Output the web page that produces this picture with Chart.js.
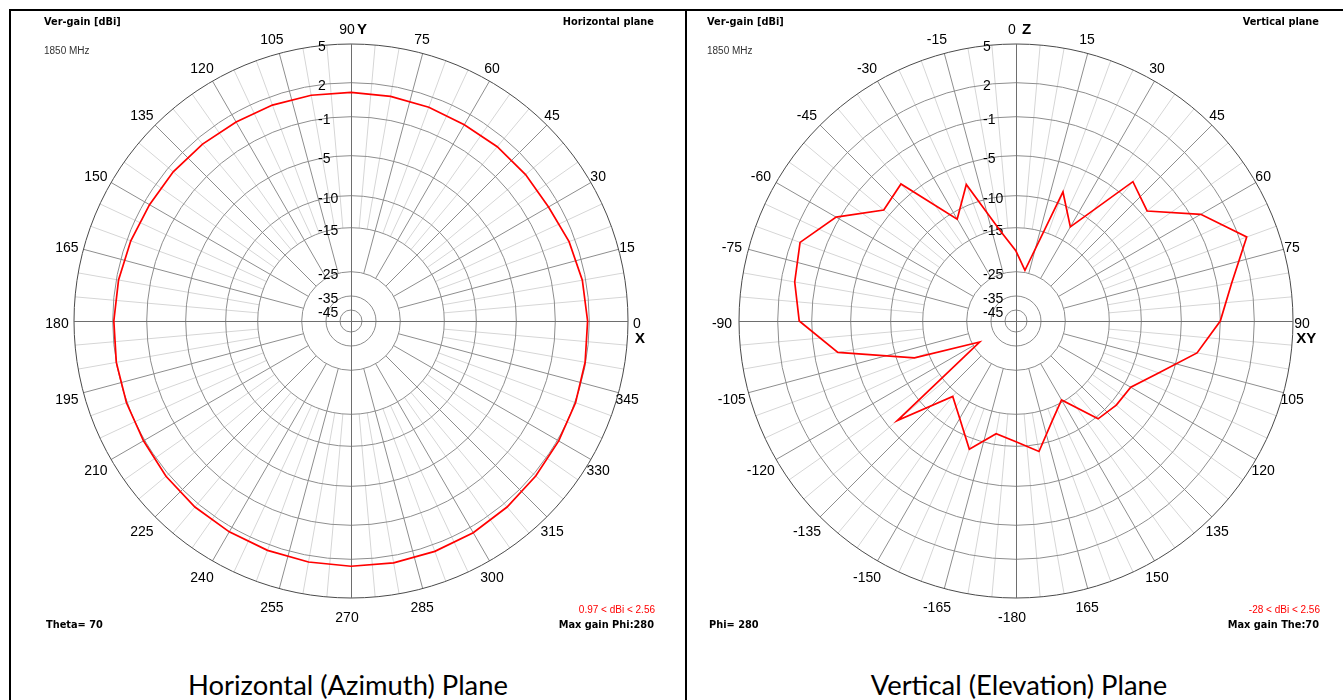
<!DOCTYPE html>
<html>
<head>
<meta charset="utf-8">
<title>Radiation pattern 1850 MHz</title>
<script src="https://cdn.jsdelivr.net/npm/chart.js@4.4.1/dist/chart.umd.min.js"></script>
<style>
body{margin:0;background:#fff;width:1343px;height:700px;overflow:hidden;position:relative}
.line{position:absolute;background:#000}
canvas{position:absolute}
.t{position:absolute;white-space:nowrap;line-height:1}
.b{font:bold 9.8px "DejaVu Sans",sans-serif;color:#000}
.s{font:10px "Liberation Sans",Arial,sans-serif;color:#333}
.red{font:10px "Liberation Sans",Arial,sans-serif;color:#ff0000}
.cap{font:27.4px Lato,sans-serif;color:#000;text-align:center;width:640px}
</style>
</head>
<body>
<div class="line" style="left:9px;top:9px;width:1334px;height:2px"></div>
<div class="line" style="left:9px;top:9px;width:2px;height:691px"></div>
<div class="line" style="left:685px;top:9px;width:2px;height:691px"></div>

<canvas id="az" width="640" height="640" style="left:31px;top:1px"></canvas>
<canvas id="el" width="640" height="640" style="left:696px;top:1px"></canvas>

<div class="t b" style="left:44px;top:16px">Ver-gain [dBi]</div>
<div class="t s" style="left:44px;top:45px">1850 MHz</div>
<div class="t b" style="right:689px;top:16px">Horizontal plane</div>
<div class="t b" style="left:46px;top:619px">Theta= 70</div>
<div class="t red" style="right:688px;top:604px">0.97 &lt; dBi &lt; 2.56</div>
<div class="t b" style="right:689px;top:619px">Max gain Phi:280</div>
<div class="t cap" style="left:28px;top:668px">Horizontal (Azimuth) Plane</div>

<div class="t b" style="left:707px;top:16px">Ver-gain [dBi]</div>
<div class="t s" style="left:707px;top:45px">1850 MHz</div>
<div class="t b" style="right:24px;top:16px">Vertical plane</div>
<div class="t b" style="left:709px;top:619px">Phi= 280</div>
<div class="t red" style="right:23px;top:604px">-28 &lt; dBi &lt; 2.56</div>
<div class="t b" style="right:24px;top:619px">Max gain The:70</div>
<div class="t cap" style="left:699px;top:668px">Vertical (Elevation) Plane</div>

<script>
// gain rings [dBi]
var gainTicks = [5, 2, -1, -5, -10, -15, -25, -35, -45];

// horizontal plane (Theta = 70), phi in degrees
var azAngles = [0, 10, 20, 30, 40, 50, 60, 70, 80, 90, 100, 110, 120, 130, 140, 150, 160, 170,
                180, 190, 200, 210, 220, 230, 240, 250, 260, 270, 280, 290, 300, 310, 320, 330, 340, 350];
var azGain = [1.85, 1.7, 1.45, 1.1, 1.08, 1.05, 0.97, 1.05, 1.1, 1.15, 1.2, 1.25, 1.25, 1.35, 1.45, 1.5, 1.65, 1.8,
              1.9, 2.0, 2.05, 2.1, 2.25, 2.35, 2.4, 2.45, 2.5, 2.54, 2.56, 2.53, 2.48, 2.35, 2.22, 2.12, 2.05, 1.95];
var azAngleTicks = [0, 15, 30, 45, 60, 75, 90, 105, 120, 135, 150, 165, 180, 195, 210, 225,
                    240, 255, 270, 285, 300, 315, 330, 345];

// vertical plane (Phi = 280), theta in degrees
var elAngles = [-180, -170, -160, -150, -140, -130, -120, -110, -100, -90, -80, -70, -60, -50, -40, -30, -20, -10,
                0, 10, 20, 30, 40, 50, 60, 70, 80, 90, 100, 110, 120, 130, 140, 150, 160, 170];
var elGain = [-10.7, -11.7, -8.6, -12, -14.2, -6.3, -28, -12.7, -3.4, 0.1, 0.8, 1.25, -0.7, -4.25, -3.6, -11.2, -7.5, -15.3,
              -20.3, -24.5, -8.5, -12.6, -3.3, -4.4, -0.2, 2.56, 0.3, -1.0, -3.1, -6.7, -9.1, -9.3, -9.7, -15.5, -13, -9.1];
var elAngleTicks = [0, 15, 30, 45, 60, 75, 90, 105, 120, 135, 150, 165, -180,
                    -165, -150, -135, -120, -105, -90, -75, -60, -45, -30, -15];

// where each ring sits, as part of the outer radius
var RING_POS = [1, 0.8603, 0.7375, 0.5968, 0.4524, 0.3368, 0.178, 0.0903, 0.0397];

function gainToFrac(v) {
    var n = gainTicks.length;
    if (v >= gainTicks[1]) {
        var t0 = (v - gainTicks[1]) / (gainTicks[0] - gainTicks[1]);
        return RING_POS[1] + t0 * (RING_POS[0] - RING_POS[1]);
    }
    for (var k = 1; k < n - 1; k++) {
        if (v >= gainTicks[k + 1]) {
            var t = (v - gainTicks[k + 1]) / (gainTicks[k] - gainTicks[k + 1]);
            return RING_POS[k + 1] + t * (RING_POS[k] - RING_POS[k + 1]);
        }
    }
    return Math.max(0, RING_POS[n - 1] * (v + 55) / 10);
}

class GainScale extends Chart.RadialLinearScale {
    getDistanceFromCenterForValue(value) {
        if (value === null || value === undefined || isNaN(value)) return NaN;
        return this.drawingArea * gainToFrac(value);
    }
    getValueForDistanceFromCenter(d) {
        var f = d / this.drawingArea;
        for (var k = 0; k < gainTicks.length - 1; k++) {
            if (f >= RING_POS[k + 1]) {
                return gainTicks[k + 1] + (f - RING_POS[k + 1]) / (RING_POS[k] - RING_POS[k + 1]) * (gainTicks[k] - gainTicks[k + 1]);
            }
        }
        return -55;
    }
    drawGrid() {
        var ctx = this.ctx, cx = this.xCenter, cy = this.yCenter;
        var n = this._pointLabels.length;
        var rOut = this.getDistanceFromCenterForValue(gainTicks[0]);
        var rLight = this.getDistanceFromCenterForValue(-15);
        var rDark = this.getDistanceFromCenterForValue(-25);
        ctx.save();
        ctx.lineWidth = 1;
        // thin spokes every 5 deg, darker every 15 deg
        for (var pass = 0; pass < 2; pass++) {
            for (var i = 0; i < n; i++) {
                var deg = i * 360 / n;
                if (deg % 90 === 0) continue;
                var major = deg % 15 === 0;
                if ((pass === 0) === major) continue;
                var a = this.getPointPosition(i, major ? rDark : rLight);
                var b = this.getPointPosition(i, rOut);
                ctx.strokeStyle = major ? '#8e8e8e' : '#d6d6d6';
                ctx.beginPath();
                ctx.moveTo(a.x, a.y);
                ctx.lineTo(b.x, b.y);
                ctx.stroke();
            }
        }
        var self = this;
        this.ticks.forEach(function(t, k) {
            var r = self.getDistanceFromCenterForValue(t.value);
            ctx.strokeStyle = k === 0 ? '#4a4a4a' : '#8e8e8e';
            ctx.beginPath();
            ctx.arc(cx, cy, r, 0, Math.PI * 2);
            ctx.stroke();
        });
        ctx.strokeStyle = '#6e6e6e';
        ctx.beginPath();
        ctx.moveTo(cx - rOut, cy + 0.5);
        ctx.lineTo(cx + rOut, cy + 0.5);
        ctx.moveTo(cx + 0.5, cy - rOut);
        ctx.lineTo(cx + 0.5, cy + rOut);
        ctx.stroke();
        ctx.restore();
    }
    drawLabels() {
        var ctx = this.ctx, o = this.options.ticks, self = this;
        ctx.save();
        ctx.font = Chart.helpers.toFont(o.font).string;
        ctx.fillStyle = o.color;
        ctx.textAlign = 'left';
        ctx.textBaseline = 'middle';
        this.ticks.forEach(function(t) {
            var r = self.getDistanceFromCenterForValue(t.value);
            ctx.fillText(t.label, self.xCenter - 33, self.yCenter - r + 3.5);
        });
        ctx.restore();
    }
}
GainScale.id = 'gainRadial';
Chart.register(GainScale);

function angleLabels(ticks, toIndex, topLetter, rightLetter) {
    return {
        id: 'angleLabels',
        afterDraw: function(chart) {
            var s = chart.scales.r, ctx = chart.ctx, R = s.drawingArea;
            var n = s._pointLabels.length;
            ctx.save();
            ctx.fillStyle = '#000';
            ctx.textBaseline = 'middle';
            ctx.textAlign = 'center';
            ctx.font = '14px "Liberation Sans", Arial, sans-serif';
            var spots = {};
            ticks.forEach(function(a) {
                var i = toIndex(a);
                var px = s.getPointPosition(i, R * 290 / 277);
                var py = s.getPointPosition(i, R * 294 / 277);
                var x = px.x - 4, y = py.y + 3;
                ctx.fillText(String(a), x, y);
                spots[i] = { x: x, y: y, w: ctx.measureText(String(a)).width };
            });
            ctx.font = 'bold 15px "Liberation Sans", Arial, sans-serif';
            ctx.textAlign = 'left';
            var top = spots[0];
            ctx.fillText(topLetter, s.xCenter + 6, top.y);
            var right = spots[n / 4];
            ctx.fillText(rightLetter, right.x - right.w / 2 + 2, right.y + 15);
            ctx.restore();
        }
    };
}

function fillSeries(angles, gains, toIndex) {
    var data = new Array(72).fill(null);
    angles.forEach(function(a, k) {
        data[toIndex(a)] = gains[k];
    });
    return data;
}

function mostrarPatron(id, categories, angles, gains, ticks, toIndex, topLetter, rightLetter) {
    var ctx = document.getElementById(id);
    return new Chart(ctx, {
        type: 'radar',
        data: {
            labels: categories,
            datasets: [{
                label: 'Ver-gain [dBi]',
                data: fillSeries(angles, gains, toIndex),
                borderColor: '#ff0000',
                borderWidth: 1.7,
                pointRadius: 0,
                fill: false,
                spanGaps: true,
                tension: 0
            }]
        },
        options: {
            responsive: false,
            animation: false,
            // the radial scale keeps another 9px for its tick font
            layout: { padding: { left: 14, right: 14, top: 34, bottom: 34 } },
            plugins: { legend: { display: false }, tooltip: { enabled: false } },
            scales: {
                r: {
                    type: 'gainRadial',
                    min: -55,
                    max: 5,
                    startAngle: 0,
                    angleLines: { display: false },
                    pointLabels: { display: false },
                    afterBuildTicks: function(scale) {
                        scale.ticks = gainTicks.map(function(v) { return { value: v }; });
                    },
                    ticks: {
                        showLabelBackdrop: false,
                        color: '#000',
                        font: { family: '"Liberation Sans", Arial, sans-serif', size: 14 },
                        callback: function(v) { return String(v); }
                    }
                }
            }
        },
        plugins: [angleLabels(ticks, toIndex, topLetter, rightLetter)]
    });
}

// azimuth: 90 on top, angle grows counter-clockwise
function azIndex(a) { return (((90 - a) % 360) + 360) % 360 / 5; }
// elevation: 0 on top, angle grows clockwise
function elIndex(a) { return ((a % 360) + 360) % 360 / 5; }

var azCategories = [], elCategories = [];
for (var i = 0; i < 72; i++) {
    azCategories.push(String((450 - 5 * i) % 360));
    elCategories.push(String(5 * i <= 180 ? 5 * i : 5 * i - 360));
}

mostrarPatron('az', azCategories, azAngles, azGain, azAngleTicks, azIndex, 'Y', 'X');
mostrarPatron('el', elCategories, elAngles, elGain, elAngleTicks, elIndex, 'Z', 'XY');
</script>
</body>
</html>
